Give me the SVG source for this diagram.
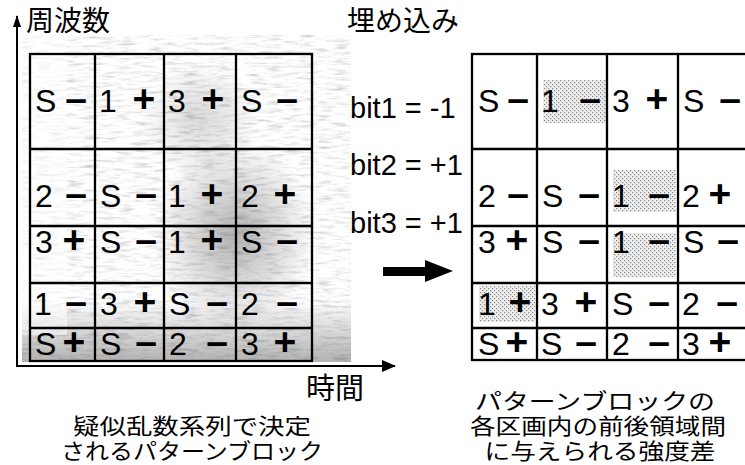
<svg xmlns="http://www.w3.org/2000/svg" width="745" height="465" viewBox="0 0 745 465">
<style>
.lab{font-family:"Liberation Sans",Arial,sans-serif;font-size:32px;fill:#000}
.sym{font-family:"Liberation Sans",Arial,sans-serif;font-size:39px;font-weight:bold;fill:#000;text-anchor:middle}
.bit{font-family:"Liberation Sans",Arial,sans-serif;font-size:29px;fill:#000}
.jp{font-family:"Noto Sans CJK JP",sans-serif;fill:#000}
.cap{font-family:"Liberation Sans","Noto Sans CJK JP",sans-serif;font-size:22px;fill:#000;text-anchor:middle}
.grid{fill:none;stroke:#000;stroke-width:2.3}
.ax{stroke:#000;stroke-width:2;fill:none}
</style>
<defs>
<filter id="tex" x="0" y="0" width="100%" height="100%">
<feTurbulence type="fractalNoise" baseFrequency="0.06 0.35" numOctaves="4" seed="7" result="n"/>
<feColorMatrix in="n" type="matrix" values="0.33 0.33 0.33 0 0 0.33 0.33 0.33 0 0 0.33 0.33 0.33 0 0 0 0 0 0 1" result="g"/>
<feComponentTransfer in="g" result="c">
<feFuncR type="linear" slope="1.4" intercept="0.27"/>
<feFuncG type="linear" slope="1.4" intercept="0.27"/>
<feFuncB type="linear" slope="1.4" intercept="0.27"/>
</feComponentTransfer>
<feComposite in="c" in2="SourceGraphic" operator="in"/>
</filter>
<radialGradient id="dark1" cx="0.5" cy="0.5" r="0.5">
<stop offset="0" stop-color="#000" stop-opacity="0.3"/>
<stop offset="1" stop-color="#000" stop-opacity="0"/>
</radialGradient>
<linearGradient id="bot" x1="0" y1="0" x2="0" y2="1">
<stop offset="0" stop-color="#000" stop-opacity="0"/>
<stop offset="1" stop-color="#000" stop-opacity="0.3"/>
</linearGradient>
<pattern id="dots" width="4" height="4" patternUnits="userSpaceOnUse">
<rect width="4" height="4" fill="#eeeeee"/>
<rect x="0" y="0" width="1.2" height="1.2" fill="#888"/>
<rect x="2" y="2" width="1.2" height="1.2" fill="#888"/>
</pattern>
<marker id="ah" markerWidth="14" markerHeight="12" refX="13" refY="6" orient="auto" markerUnits="userSpaceOnUse">
<path d="M0,0 L14,6 L0,12 z" fill="#000"/>
</marker>
<marker id="ahv" markerWidth="12" markerHeight="12" refX="11" refY="4" orient="auto" markerUnits="userSpaceOnUse">
<path d="M0,0 L12,4 L0,8 z" fill="#000"/>
</marker>
</defs>
<rect width="745" height="465" fill="#fff"/>

<g id="spectrogram">
<rect x="22" y="35" width="329" height="327" fill="#fff" filter="url(#tex)"/>
<ellipse cx="235" cy="235" rx="80" ry="95" fill="url(#dark1)"/>
<ellipse cx="200" cy="120" rx="60" ry="60" fill="url(#dark1)" opacity="0.5"/>
<rect x="22" y="300" width="329" height="62" fill="url(#bot)"/>
<rect x="22" y="35" width="45" height="300" fill="#fff" opacity="0.5"/>
</g>

<g id="left-grid">
<rect class="grid" x="30" y="54" width="282" height="307"/>
<path class="grid" d="M95,54V361M164,54V361M236,54V361M30,149H312M30,226H312M30,283H312M30,328H312"/>
</g>

<g id="right-grid">
<rect x="543" y="80" width="63" height="43" fill="url(#dots)"/>
<rect x="613" y="170" width="63" height="42" fill="url(#dots)"/>
<rect x="613" y="233" width="63" height="44" fill="url(#dots)"/>
<rect x="479" y="286" width="56" height="36" fill="url(#dots)"/>
<rect class="grid" x="472" y="54" width="290" height="306"/>
<path class="grid" d="M537,54V360M607,54V360M678,54V360M472,149H750M472,226H750M472,283H750M472,328H750"/>
</g>

<g id="L-r1"><text class="lab" x="35" y="112">S</text><text class="sym" x="76" y="112">–</text><text class="lab" x="99" y="112">1</text><text class="sym" x="144" y="112">+</text><text class="lab" x="168" y="112">3</text><text class="sym" x="213" y="112">+</text><text class="lab" x="241" y="112">S</text><text class="sym" x="287" y="112">–</text></g>
<g id="L-r2"><text class="lab" x="35" y="207">2</text><text class="sym" x="76" y="207">–</text><text class="lab" x="100" y="207">S</text><text class="sym" x="146" y="207">–</text><text class="lab" x="168" y="207">1</text><text class="sym" x="212" y="207">+</text><text class="lab" x="241" y="207">2</text><text class="sym" x="285" y="207">+</text></g>
<g id="L-r3"><text class="lab" x="35" y="253">3</text><text class="sym" x="74" y="253">+</text><text class="lab" x="100" y="253">S</text><text class="sym" x="146" y="253">–</text><text class="lab" x="168" y="253">1</text><text class="sym" x="212" y="253">+</text><text class="lab" x="241" y="253">S</text><text class="sym" x="287" y="253">–</text></g>
<g id="L-r4"><text class="lab" x="34" y="315">1</text><text class="sym" x="76" y="315">–</text><text class="lab" x="100" y="315">3</text><text class="sym" x="145" y="315">+</text><text class="lab" x="169" y="315">S</text><text class="sym" x="217" y="315">–</text><text class="lab" x="241" y="315">2</text><text class="sym" x="287" y="315">–</text></g>
<g id="L-r5"><text class="lab" x="35" y="355">S</text><text class="sym" x="74" y="355">+</text><text class="lab" x="100" y="355">S</text><text class="sym" x="146" y="355">–</text><text class="lab" x="169" y="355">2</text><text class="sym" x="217" y="355">–</text><text class="lab" x="241" y="355">3</text><text class="sym" x="285" y="355">+</text></g>

<g id="R-r1"><text class="lab" x="478" y="112">S</text><text class="sym" x="518" y="112">–</text><text class="lab" x="541" y="112">1</text><text class="sym" x="590" y="112">–</text><text class="lab" x="612" y="112">3</text><text class="sym" x="657" y="112">+</text><text class="lab" x="683" y="112">S</text><text class="sym" x="730" y="112">–</text></g>
<g id="R-r2"><text class="lab" x="478" y="207">2</text><text class="sym" x="518" y="207">–</text><text class="lab" x="542" y="207">S</text><text class="sym" x="589" y="207">–</text><text class="lab" x="612" y="207">1</text><text class="sym" x="659" y="207">–</text><text class="lab" x="682" y="207">2</text><text class="sym" x="720" y="207">+</text></g>
<g id="R-r3"><text class="lab" x="478" y="253">3</text><text class="sym" x="517" y="253">+</text><text class="lab" x="542" y="253">S</text><text class="sym" x="589" y="253">–</text><text class="lab" x="612" y="253">1</text><text class="sym" x="659" y="253">–</text><text class="lab" x="683" y="253">S</text><text class="sym" x="728" y="253">–</text></g>
<g id="R-r4"><text class="lab" x="478" y="315">1</text><text class="sym" x="520" y="315">+</text><text class="lab" x="541" y="315">3</text><text class="sym" x="586" y="315">+</text><text class="lab" x="612" y="315">S</text><text class="sym" x="659" y="315">–</text><text class="lab" x="682" y="315">2</text><text class="sym" x="727" y="315">–</text></g>
<g id="R-r5"><text class="lab" x="478" y="355">S</text><text class="sym" x="517" y="355">+</text><text class="lab" x="541" y="355">S</text><text class="sym" x="586" y="355">–</text><text class="lab" x="612" y="355">2</text><text class="sym" x="659" y="355">–</text><text class="lab" x="682" y="355">3</text><text class="sym" x="720" y="355">+</text></g>

<g id="bits">
<text class="bit" x="350" y="118">bit1 = -1</text>
<text class="bit" x="350" y="175">bit2 = +1</text>
<text class="bit" x="350" y="233">bit3 = +1</text>
</g>

<g id="connectors">
<path class="ax" d="M17,367V16" marker-end="url(#ahv)"/>
<path class="ax" d="M16,366H395" marker-end="url(#ah)"/>
<path d="M383,267H425V260L453,271L425,282V276H383z" fill="#000"/>
</g>

<g id="labels">
<text class="jp" x="26" y="31" font-size="28">周波数</text>
<text class="jp" x="347" y="31" font-size="28">埋め込み</text>
<text class="jp" x="306" y="399" font-size="29">時間</text>
<text class="cap" x="192" y="434" textLength="238" lengthAdjust="spacingAndGlyphs">疑似乱数系列で決定</text>
<text class="cap" x="192" y="459" textLength="262" lengthAdjust="spacingAndGlyphs">されるパターンブロック</text>
<text class="cap" x="595" y="409" textLength="240" lengthAdjust="spacingAndGlyphs">パターンブロックの</text>
<text class="cap" x="598" y="434" textLength="256" lengthAdjust="spacingAndGlyphs">各区画内の前後領域間</text>
<text class="cap" x="600" y="459" textLength="231" lengthAdjust="spacingAndGlyphs">に与えられる強度差</text>
</g>
</svg>
